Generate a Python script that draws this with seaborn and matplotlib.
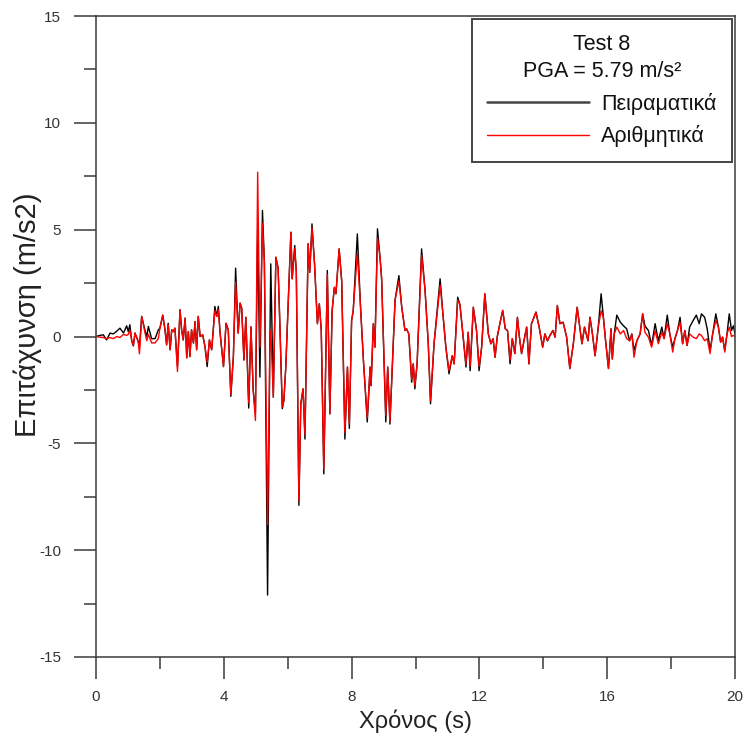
import numpy as np
import pandas as pd
import matplotlib
matplotlib.use("Agg")
import matplotlib.pyplot as plt
from matplotlib.ticker import MultipleLocator
import seaborn as sns

# ---------------- data ----------------
time = [0.00, 0.12, 0.23, 0.33, 0.44, 0.54, 0.65, 0.75, 0.86, 0.96,
        1.01, 1.06, 1.12, 1.17, 1.22, 1.32, 1.36, 1.43, 1.53, 1.59,
        1.64, 1.74, 1.85, 1.95, 2.00, 2.09, 2.16, 2.21, 2.26, 2.32,
        2.37, 2.42, 2.47, 2.55, 2.63, 2.68, 2.73, 2.79, 2.84, 2.89,
        2.94, 2.99, 3.05, 3.10, 3.15, 3.20, 3.26, 3.34, 3.41, 3.48,
        3.55, 3.62, 3.67, 3.72, 3.78, 3.83, 3.88, 3.99, 4.07, 4.14,
        4.22, 4.30, 4.37, 4.45, 4.51, 4.56, 4.63, 4.69, 4.78, 4.85,
        4.92, 4.99, 5.06, 5.13, 5.21, 5.27, 5.37, 5.44, 5.47, 5.55,
        5.63, 5.70, 5.76, 5.83, 5.88, 5.94, 6.10, 6.14, 6.22, 6.27,
        6.35, 6.41, 6.48, 6.54, 6.64, 6.69, 6.76, 6.84, 6.93, 6.99,
        7.05, 7.13, 7.24, 7.32, 7.39, 7.46, 7.51, 7.61, 7.69, 7.79,
        7.87, 7.93, 8.00, 8.05, 8.18, 8.28, 8.37, 8.49, 8.58, 8.61,
        8.68, 8.73, 8.81, 8.89, 8.94, 9.07, 9.13, 9.20, 9.36, 9.48,
        9.57, 9.67, 9.72, 9.79, 9.88, 9.93, 9.98, 10.05, 10.19, 10.30,
        10.40, 10.47, 10.58, 10.77, 10.85, 10.95, 11.05, 11.15, 11.21, 11.32,
        11.39, 11.49, 11.58, 11.65, 11.71, 11.81, 11.91, 11.99, 12.07, 12.17,
        12.28, 12.36, 12.43, 12.49, 12.56, 12.65, 12.73, 12.81, 12.88, 12.96,
        13.03, 13.11, 13.19, 13.25, 13.32, 13.42, 13.48, 13.55, 13.63, 13.77,
        13.87, 13.98, 14.05, 14.13, 14.21, 14.30, 14.37, 14.44, 14.52, 14.62,
        14.73, 14.83, 14.94, 15.06, 15.14, 15.21, 15.29, 15.40, 15.46, 15.54,
        15.62, 15.72, 15.81, 15.88, 15.95, 16.04, 16.12, 16.16, 16.22, 16.30,
        16.41, 16.51, 16.61, 16.70, 16.77, 16.84, 16.93, 17.03, 17.11, 17.18,
        17.29, 17.39, 17.50, 17.60, 17.71, 17.78, 17.88, 17.96, 18.05, 18.12,
        18.20, 18.28, 18.36, 18.43, 18.50, 18.58, 18.69, 18.79, 18.88, 18.95,
        19.05, 19.13, 19.22, 19.30, 19.40, 19.48, 19.55, 19.61, 19.68, 19.75,
        19.82, 19.89, 19.95, 20.00]

experimental = [0.00, 0.05, 0.08, -0.16, 0.16, 0.12, 0.25, 0.39, 0.16, 0.50,
                0.23, 0.55, -0.23, -0.44, 0.16, -0.23, -0.50, 0.94, 0.31, 0.00,
                0.47, -0.10, -0.10, 0.31, 0.39, 1.00, 0.31, -0.39, 0.62, -0.62,
                0.31, 0.23, 0.39, -1.40, 1.25, 0.31, -0.16, 0.86, -1.00, 0.23,
                -0.94, 0.31, -0.31, 0.70, -0.62, 0.94, 0.00, 0.08, -0.47, -1.41,
                -0.16, -0.62, 0.31, 1.41, 0.94, 1.41, 0.23, -1.41, 0.62, 0.31,
                -2.80, -0.94, 3.20, 0.16, 1.56, 1.33, -1.10, 0.90, -3.35, 0.45,
                -2.50, -3.60, 5.00, -1.90, 5.90, 3.50, -12.10, -0.66, 3.40, -2.84,
                3.71, 3.20, 0.30, -3.38, -3.00, -1.43, 4.88, 2.70, 4.26, 3.00,
                -7.90, -3.15, -2.45, -4.80, 4.34, 3.00, 5.27, 3.40, 0.60, 1.53,
                0.30, -6.43, 3.09, -3.62, 1.20, 2.30, 2.00, 4.10, 2.60, -4.80,
                -1.43, -4.30, 0.75, 1.20, 4.80, 1.37, -1.12, -4.00, -1.43, -2.30,
                0.60, -0.50, 5.04, 3.70, 2.70, -4.00, -1.43, -4.10, 1.70, 2.85,
                1.37, 0.28, 0.36, 0.12, -2.14, -1.28, -2.45, -1.28, 4.10, 2.15,
                -0.34, -3.15, -0.34, 2.70, 1.20, -0.50, -1.75, -0.90, -1.28, 1.84,
                1.50, 0.00, -1.43, 0.20, -1.60, 1.37, 0.28, -1.60, -0.50, 2.00,
                0.12, -0.34, -0.10, -0.97, 0.00, 0.67, 1.22, 0.36, 0.28, -1.28,
                -0.10, -0.80, 0.90, 0.00, -0.80, 0.00, 0.44, -1.28, 0.60, 1.14,
                0.44, -0.50, 0.12, -0.20, 0.05, 0.28, -0.03, 1.45, 0.60, 0.67,
                -0.03, -1.50, -0.34, 1.37, 0.44, -0.34, 0.44, -0.20, 0.90, 0.10,
                -0.90, 0.44, 2.00, 0.90, -0.20, -1.50, 0.36, -1.05, 0.12, 1.00,
                0.67, 0.50, 0.36, -0.20, 0.12, -0.65, -0.20, 0.12, 1.06, 0.50,
                0.28, -0.42, 0.60, -0.20, 0.44, -0.10, 1.00, 0.12, -0.50, -0.10,
                0.28, 0.90, -0.34, 0.28, -0.42, 0.44, 0.75, 1.00, 0.60, 1.06,
                0.90, 0.36, -0.65, 0.12, 1.06, 0.44, -0.26, -0.03, -0.65, 0.12,
                1.06, 0.28, 0.50, 0.12]

numerical = [0.00, -0.03, -0.05, -0.10, -0.05, -0.10, 0.00, -0.05, 0.10, 0.05,
             0.10, 0.30, -0.20, -0.40, 0.16, -0.23, -0.81, 0.94, 0.20, -0.20,
             0.10, -0.30, -0.30, -0.10, 0.39, 1.00, 0.31, -0.39, 0.55, -0.62,
             0.31, 0.23, 0.39, -1.64, 1.25, 0.31, -0.16, 0.86, -1.00, 0.23,
             -0.94, 0.31, -0.31, 0.70, -0.62, 0.94, 0.00, 0.08, -0.47, -1.20,
             -0.16, -0.62, 0.31, 1.20, 0.94, 1.25, 0.23, -1.41, 0.62, 0.31,
             -2.70, -0.94, 2.54, 0.16, 1.56, 1.33, -1.10, 0.90, -3.10, 0.45,
             -2.50, -3.93, 7.69, -0.50, 5.30, 3.50, -8.80, -0.66, 0.30, -2.84,
             3.71, 3.20, 0.30, -3.30, -3.00, -1.43, 4.88, 2.70, 4.10, 3.00,
             -7.70, -3.15, -2.45, -4.60, 4.34, 3.00, 5.10, 3.40, 0.60, 1.53,
             0.30, -6.20, 2.90, -3.62, 1.20, 2.30, 2.00, 4.10, 2.60, -4.50,
             -1.43, -4.10, 0.75, 1.20, 3.90, 1.37, -1.12, -3.80, -1.43, -2.30,
             0.60, -0.50, 4.60, 3.70, 2.70, -3.70, -1.43, -4.00, 1.70, 2.60,
             1.37, 0.28, 0.36, 0.12, -2.00, -1.28, -2.30, -1.28, 3.80, 2.15,
             -0.34, -3.00, -0.34, 2.40, 1.20, -0.50, -1.60, -0.90, -1.28, 1.70,
             1.50, 0.00, -1.30, 0.20, -1.40, 1.37, 0.28, -1.40, -0.50, 2.00,
             0.12, -0.34, -0.10, -0.97, 0.00, 0.67, 1.22, 0.36, 0.28, -1.10,
             -0.10, -0.80, 0.90, 0.00, -0.80, 0.00, 0.44, -1.28, 0.60, 1.14,
             0.44, -0.50, 0.12, -0.20, 0.05, 0.28, -0.03, 1.45, 0.60, 0.67,
             -0.03, -1.50, -0.34, 1.37, 0.44, -0.34, 0.44, -0.20, 0.90, 0.10,
             -0.90, 0.44, 1.20, 0.90, -0.20, -1.50, 0.36, -1.05, 0.12, 0.44,
             0.12, 0.28, -0.10, -0.20, 0.12, -0.97, -0.20, 0.12, 1.06, 0.20,
             -0.03, -0.50, 0.28, -0.34, 0.20, -0.10, 0.60, 0.12, -0.73, -0.10,
             0.28, 0.67, -0.34, 0.28, -0.42, 0.12, -0.03, -0.10, 0.12, 0.05,
             -0.20, -0.10, -0.80, 0.12, 0.75, 0.44, -0.26, -0.03, -0.73, 0.12,
             0.44, 0.00, 0.05, 0.00]

series_labels = ["Πειραματικά", "Αριθμητικά"]
legend_title = "Test 8\nPGA = 5.79 m/s²"
x_label = "Χρόνος (s)"
y_label = "Επιτάχυνση (m/s2)"
x_major = [0, 4, 8, 12, 16, 20]
y_major = [-15, -10, -5, 0, 5, 10, 15]

# ---------------- styling ----------------
sns.set_theme(style="ticks")
plt.rcParams["font.family"] = ["Liberation Sans", "DejaVu Sans"]
plt.rcParams["axes.unicode_minus"] = False

df = pd.DataFrame({"t": time, "exp": experimental, "num": numerical})

fig = plt.figure(figsize=(7.43, 7.33), dpi=100)
ax = fig.add_axes([96 / 743, 76 / 733, 639 / 743, 641 / 733])

sns.lineplot(data=df, x="t", y="exp", ax=ax, color="black", linewidth=1.0,
             label=series_labels[0], estimator=None, sort=False)
sns.lineplot(data=df, x="t", y="num", ax=ax, color="#ff0000", linewidth=1.0,
             label=series_labels[1], estimator=None, sort=False)

ax.set_xlim(0, 20)
ax.set_ylim(-15, 15)
ax.set_xticks(x_major)
ax.set_yticks(y_major)
ax.xaxis.set_minor_locator(MultipleLocator(2))
ax.yaxis.set_minor_locator(MultipleLocator(2.5))

for sp in ax.spines.values():
    sp.set_visible(True)
    sp.set_color("#3a3a3a")
    sp.set_linewidth(1.1)

ax.tick_params(axis="both", which="major", direction="out", length=16,
               width=1.1, color="#3a3a3a", labelcolor="#333333",
               labelsize=11)
ax.tick_params(axis="both", which="minor", direction="out", length=8.5,
               width=1.1, color="#3a3a3a")
ax.tick_params(axis="x", which="both", top=False, pad=8)
ax.tick_params(axis="y", which="both", right=False, pad=9)
for lab in ax.get_xticklabels() + ax.get_yticklabels():
    lab.set_family(["Liberation Sans Narrow", "Liberation Sans", "DejaVu Sans"])

ax.set_xlabel(x_label, fontsize=17, color="#222222", labelpad=4)
ax.set_ylabel(y_label, fontsize=21, color="#222222")
ax.yaxis.set_label_coords((42 - 96) / 639, (657 - 315) / 641)

leg = ax.legend(title=legend_title, loc="upper right", fontsize=15.5,
                title_fontsize=15.5, frameon=True, fancybox=False,
                edgecolor="#444444", framealpha=1, handlelength=4.75,
                handletextpad=0.55, borderaxespad=0.15, labelspacing=0.5,
                borderpad=0.7)
leg.get_frame().set_linewidth(1.4)
leg.get_title().set_multialignment("center")
leg.get_title().set_linespacing(1.35)
leg.get_title().set_color("#111111")
for txt in leg.get_texts():
    txt.set_color("#111111")
leg.get_lines()[0].set_color("#444444")
leg.get_lines()[0].set_linewidth(1.8)

fig.savefig("out.png", dpi=100)
